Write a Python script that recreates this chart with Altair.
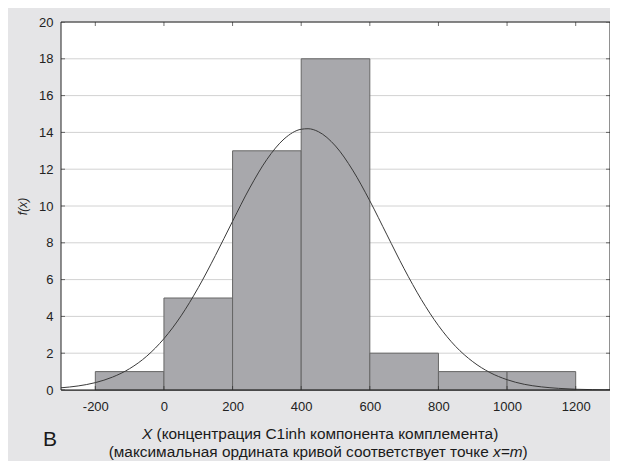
import altair as alt
import pandas as pd

# ---- data ----
bin_start = [-200, 0, 200, 400, 600, 800, 1000]
bin_end = [0, 200, 400, 600, 800, 1000, 1200]
counts = [1, 5, 13, 18, 2, 1, 1]

curve_x = [-300, -250, -200, -150, -100, -50, 0, 50, 100, 150, 200, 250, 300,
           350, 400, 420, 450, 500, 550, 600, 650, 700, 750, 800, 850, 900,
           950, 1000, 1050, 1100, 1150, 1200, 1250, 1300]
curve_y = [0.12, 0.22, 0.40, 0.70, 1.16, 1.84, 2.79, 4.03, 5.56, 7.31, 9.17,
           10.98, 12.53, 13.64, 14.17, 14.2, 14.04, 13.26, 11.95, 10.28, 8.43,
           6.59, 4.92, 3.50, 2.37, 1.54, 0.95, 0.56, 0.31, 0.17, 0.09, 0.04,
           0.02, 0.01]

x_ticks = [-200, 0, 200, 400, 600, 800, 1000, 1200]
y_ticks = [0, 2, 4, 6, 8, 10, 12, 14, 16, 18, 20]
x_domain = [-300, 1300]
y_domain = [0, 20]

y_title = "f(x)"
panel_letter = "B"
title1_italic = "X"
title1_rest = "(концентрация С1inh компонента комплемента)"
title2_main = "(максимальная ордината кривой соответствует точке"
title2_italic = "x=m"
title2_close = ")"

FONT = "Liberation Sans"
W, H = 549, 368
TS = 15.4

bars_df = pd.DataFrame({"start": bin_start, "end": bin_end, "count": counts})
curve_df = pd.DataFrame({"x": curve_x, "y": curve_y})
xt_df = pd.DataFrame({"x": x_ticks})
yt_df = pd.DataFrame({"y": y_ticks})
frame_df = pd.DataFrame({"x0": [x_domain[0]], "x1": [x_domain[1]],
                         "y0": [y_domain[0]], "y1": [y_domain[1]]})

xs = alt.Scale(domain=x_domain, nice=False, zero=False)
ys = alt.Scale(domain=y_domain, nice=False)

x_axis = alt.Axis(values=x_ticks, grid=False, ticks=False, title=None,
                  labelPadding=10, labelFontSize=13, domain=True,
                  labelOverlap=False, labelExpr="'' + datum.value",
                  domainColor="#222222", labelColor="#222222")
y_axis = alt.Axis(values=y_ticks, grid=False, ticks=False, title=y_title,
                  labelPadding=8, labelFontSize=13, domain=True,
                  labelOverlap=False, labelExpr="'' + datum.value",
                  domainColor="#222222", labelColor="#222222",
                  titleFontStyle="italic", titleFontWeight="normal",
                  titleFontSize=12, titleColor="#222222",
                  titleX=-39, titleY=H / 2, titleAngle=-90,
                  titleAlign="center", titleBaseline="middle")


def X(field):
    return alt.X(field, scale=xs, axis=x_axis)


def Y(field):
    return alt.Y(field, scale=ys, axis=y_axis)


# white plot-area background (drawn from the domain)
plot_bg = alt.Chart(frame_df).mark_rect(fill="white", stroke=None).encode(
    x=X("x0:Q"), x2="x1:Q", y=Y("y0:Q"), y2="y1:Q",
)

grid = alt.Chart(yt_df).mark_rule(color="#d2d2d2", strokeWidth=1).encode(
    y=Y("y:Q")
)

bars = alt.Chart(bars_df).mark_rect(
    fill="#a8a8ac", stroke="#666666", strokeWidth=1, opacity=1
).encode(
    x=X("start:Q"), x2="end:Q", y=Y("count:Q"), y2=alt.datum(0),
)

curve = alt.Chart(curve_df).mark_line(
    color="#3a3a3a", strokeWidth=1, interpolate="monotone", clip=True
).encode(x=X("x:Q"), y=Y("y:Q"))

tick_style = dict(color="#333333", thickness=1, size=8, clip=True)
top_ticks = alt.Chart(xt_df).mark_tick(orient="vertical", **tick_style).encode(
    x=X("x:Q"), y=alt.YDatum(y_domain[1], scale=ys, axis=y_axis))
bot_ticks = alt.Chart(xt_df).mark_tick(orient="vertical", **tick_style).encode(
    x=X("x:Q"), y=alt.YDatum(y_domain[0], scale=ys, axis=y_axis))
left_ticks = alt.Chart(yt_df).mark_tick(orient="horizontal", **tick_style).encode(
    y=Y("y:Q"), x=alt.XDatum(x_domain[0], scale=xs, axis=x_axis))
right_ticks = alt.Chart(yt_df).mark_tick(orient="horizontal", **tick_style).encode(
    y=Y("y:Q"), x=alt.XDatum(x_domain[1], scale=xs, axis=x_axis))

# plot frame (view border)
frame = alt.Chart(frame_df).mark_rect(
    fill=None, stroke="#222222", strokeWidth=1, filled=False
).encode(
    x=X("x0:Q"), x2="x1:Q", y=Y("y0:Q"), y2="y1:Q",
)


def label(text, x, y, align, size=TS, style="normal"):
    return alt.Chart(pd.DataFrame({"t": [text]})).mark_text(
        align=align, baseline="alphabetic", fontSize=size, fontStyle=style,
        font=FONT, color="#1a1a1a", clip=False
    ).encode(text="t:N", x=alt.value(x), y=alt.value(y))


texts = (
    label(panel_letter, -18, 424, "left", size=21)
    + label(title1_italic, 91.3, 417, "right", style="italic")
    + label(title1_rest, 95.5, 417, "left")
    + label(title2_main, 427.7, 435, "right")
    + label(title2_italic, 432, 435, "left", style="italic")
    + label(title2_close, 461.5, 435, "left")
)

chart = alt.layer(
    plot_bg, grid, bars, curve, top_ticks, bot_ticks, left_ticks, right_ticks,
    frame, texts
).properties(
    width=W, height=H,
    padding={"left": 53, "top": 14, "right": 0, "bottom": 71},
    autosize=alt.AutoSizeParams(type="none"),
    background="#e5e5e7",
).configure(
    font=FONT
).configure_view(
    stroke=None
)

chart.save("out.html", embed_options={"renderer": "svg", "actions": False})
